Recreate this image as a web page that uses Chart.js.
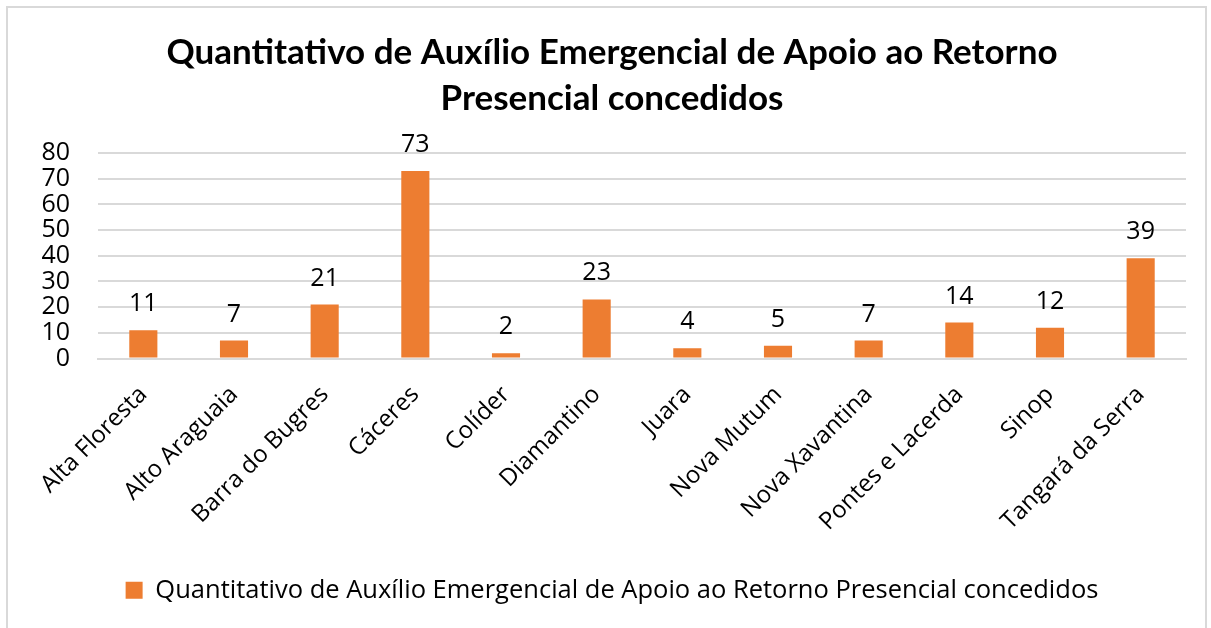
<!DOCTYPE html>
<html>
<head>
	<meta charset="utf-8">
	<title>Quantitativo de Auxílio Emergencial</title>
	<script src="https://cdn.jsdelivr.net/npm/chart.js"></script>
	<style type="text/css">
		body { margin: 0; padding: 0; background: #fff; }
		#moldura {
			position: absolute; left: 6px; top: 6px;
			width: 1197px; height: 640px;
			border: 2px solid #d9d9d9;
		}
		#wrap { position: absolute; left: 0; top: 0; width: 1211px; height: 628px; }
	</style>
</head>
<body>
	<div id="moldura"></div>
	<div id="wrap"><canvas id="chart"></canvas></div>

	<script>
		// dados
		var campi = ['Alta Floresta', 'Alto Araguaia', 'Barra do Bugres', 'Cáceres', 'Colíder', 'Diamantino',
			'Juara', 'Nova Mutum', 'Nova Xavantina', 'Pontes e Lacerda', 'Sinop', 'Tangará da Serra'];
		var quantidades = [11, 7, 21, 73, 2, 23, 4, 5, 7, 14, 12, 39];
		var serieNome = 'Quantitativo de Auxílio Emergencial de Apoio ao Retorno Presencial concedidos';
		var titulo = ['Quantitativo de Auxílio Emergencial de Apoio ao Retorno', 'Presencial concedidos'];
		var eixoY = { min: 0, max: 80, passo: 10 };

		var laranja = '#ed7d31';
		var fonte = '"Open Sans", sans-serif';

		// rótulos de valor acima das barras
		var rotulos = {
			id: 'rotulos',
			afterDatasetsDraw: function(chart) {
				var ctx = chart.ctx;
				var meta = chart.getDatasetMeta(0);
				ctx.save();
				ctx.font = '25px ' + fonte;
				ctx.fillStyle = '#000';
				ctx.textAlign = 'center';
				ctx.textBaseline = 'alphabetic';
				meta.data.forEach(function(bar, i) {
					ctx.fillText(String(quantidades[i]), bar.x, bar.y - 19);
				});
				ctx.restore();
			}
		};

		var ctx = document.getElementById('chart').getContext('2d');
		var chart = new Chart(ctx, {
			type: 'bar',
			data: {
				labels: campi,
				datasets: [{
					label: serieNome,
					data: quantidades,
					backgroundColor: laranja,
					barPercentage: 0.31,
					categoryPercentage: 1.0
				}]
			},
			options: {
				responsive: true,
				maintainAspectRatio: false,
				animation: false,
				layout: { padding: { left: 38, right: 25, top: 0, bottom: 15 } },
				plugins: {
					title: {
						display: true,
						text: titulo,
						color: '#000',
						font: { family: 'Lato, sans-serif', size: 35, weight: 'bold', lineHeight: 1.3 },
						padding: { top: 30, bottom: 32 }
					},
					legend: {
						position: 'bottom',
						labels: {
							color: '#000',
							font: { family: fonte, size: 25.5 },
							boxWidth: 17,
							boxHeight: 17,
							padding: 8
						}
					},
					tooltip: { enabled: false }
				},
				scales: {
					x: {
						grid: { display: false, drawTicks: false },
						border: { display: true, color: '#d9d9d9', width: 2 },
						ticks: {
							color: '#000',
							font: { family: fonte, size: 24 },
							minRotation: 45,
							maxRotation: 45,
							autoSkip: false,
							padding: 22
						},
						afterFit: function(scale) { scale.height = 211; }
					},
					y: {
						min: eixoY.min,
						max: eixoY.max,
						ticks: {
							stepSize: eixoY.passo,
							autoSkip: false,
							color: '#000',
							font: { family: fonte, size: 25 },
							padding: 28
						},
						grid: { color: '#d9d9d9', lineWidth: 2, drawTicks: false },
						border: { display: false },
						afterFit: function(scale) { scale.width = 60; }
					}
				}
			},
			plugins: [rotulos]
		});
	</script>
</body>
</html>
